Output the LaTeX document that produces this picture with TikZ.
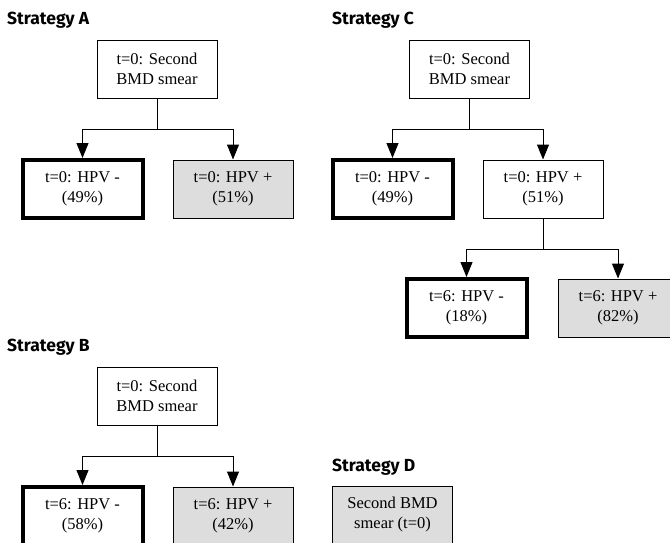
\documentclass[tikz,border=0pt]{standalone}
\usepackage{fontspec}
\setmainfont{Liberation Serif}
\newfontfamily\titlefont{Fira Sans}
\usepackage{xcolor}
\usetikzlibrary{arrows.meta}
\definecolor{leafgray}{HTML}{DDDDDD}

\begin{document}
\begin{tikzpicture}[
    x=1pt, y=-1pt,
    box/.style={rectangle, draw, line width=1pt,
                minimum width=120pt, minimum height=58pt,
                align=center, inner sep=0pt,
                font=\fontsize{16.5}{20}\selectfont},
    thickbox/.style={box, line width=4pt},
    graybox/.style={box, fill=leafgray},
    title/.style={anchor=base west, inner sep=0pt,
                  font=\titlefont\bfseries\fontsize{17.5}{20}\selectfont},
    link/.style={line width=1pt, -{Triangle[length=15pt,width=12pt]}}
]
\useasboundingbox (0,0) rectangle (670,542);
\clip (0,0) rectangle (670,542);

% Strategy A
\node[title] (titleA) at (7,24) {Strategy A};
\node[box] (A0) at (157,69) {t=0: Second\\BMD smear};
\node[thickbox] (A1) at (82.5,189) {t=0: HPV -\\(49\%)};
\node[graybox] (A2) at (233,189) {t=0: HPV +\\(51\%)};
\draw[link] (A0.south) -- ++(0,31) -| (A1.north);
\draw[link] (A0.south) -- ++(0,31) -| (A2.north);

% Strategy C
\node[title] (titleC) at (332,24) {Strategy C};
\node[box] (C0) at (469.5,69) {t=0: Second\\BMD smear};
\node[thickbox] (C1) at (392.5,189) {t=0: HPV -\\(49\%)};
\node[box] (C2) at (543,189) {t=0: HPV +\\(51\%)};
\node[thickbox] (C3) at (466.5,308) {t=6: HPV -\\(18\%)};
\node[graybox] (C4) at (618,308) {t=6: HPV +\\(82\%)};
\draw[link] (C0.south) -- ++(0,31) -| (C1.north);
\draw[link] (C0.south) -- ++(0,31) -| (C2.north);
\draw[link] (C2.south) -- ++(0,31) -| (C3.north);
\draw[link] (C2.south) -- ++(0,31) -| (C4.north);

% Strategy B
\node[title] (titleB) at (7,351) {Strategy B};
\node[box] (B0) at (157,396) {t=0: Second\\BMD smear};
\node[thickbox] (B1) at (82.5,516) {t=6: HPV -\\(58\%)};
\node[graybox] (B2) at (233,516) {t=6: HPV +\\(42\%)};
\draw[link] (B0.south) -- ++(0,31) -| (B1.north);
\draw[link] (B0.south) -- ++(0,31) -| (B2.north);

% Strategy D
\node[title] (titleD) at (332,471) {Strategy D};
\node[graybox] (D0) at (392.5,515) {Second BMD\\smear (t=0)};
\end{tikzpicture}
\end{document}
